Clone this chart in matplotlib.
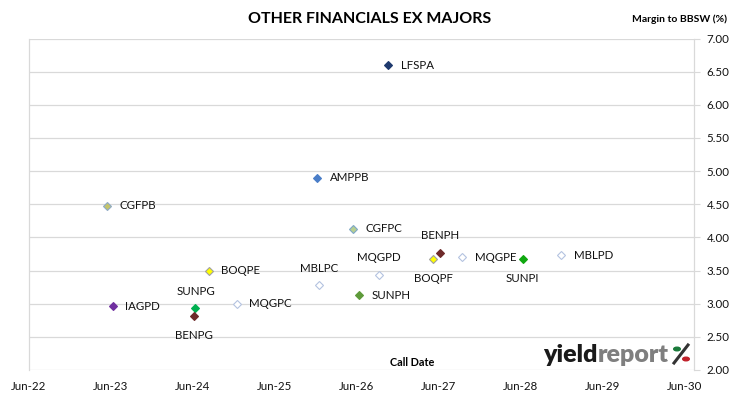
import pandas as pd
import numpy as np
import matplotlib
matplotlib.use('Agg')
import matplotlib.pyplot as plt
import matplotlib.dates as mdates
from matplotlib.patches import Circle
from matplotlib.lines import Line2D

plt.rcParams['font.family'] = ['Lato', 'DejaVu Sans']

#securities, call dates and margins
codes = ['LFSPA', 'AMPPB', 'CGFPB', 'CGFPC', 'BENPH', 'BOQPF', 'MQGPD', 'MBLPC', 'SUNPH',
         'MQGPE', 'SUNPI', 'MBLPD', 'BOQPE', 'SUNPG', 'BENPG', 'MQGPC', 'IAGPD']
call_dates = ['2026-10-19', '2025-12-07', '2023-05-15', '2026-05-16', '2027-06-09', '2027-05-08',
              '2026-09-06', '2025-12-16', '2026-06-11', '2027-09-14', '2028-06-09', '2028-11-29',
              '2024-08-10', '2024-06-12', '2024-06-07', '2024-12-13', '2023-06-09']
margins = [6.60, 4.90, 4.48, 4.13, 3.77, 3.67, 3.44, 3.28, 3.13,
           3.70, 3.67, 3.73, 3.50, 2.93, 2.81, 3.00, 2.96]

fill_cols = ['#1f3a6e', '#4a7ec8', '#c4c46a', '#b8d090', '#6e2a2a', '#ffff00', 'white', 'white', '#5e9a3a',
             'white', '#10a810', 'white', '#ffff00', '#00b050', '#6e2a2a', 'white', '#7030a0']
edge_cols = ['#1f3a6e', '#4a7ec8', '#8eaac8', '#7fa8c8', '#6e2a2a', '#a0a0a0', '#b4c3e0', '#b4c3e0', '#5e9a3a',
             '#b4c3e0', '#10a810', '#b4c3e0', '#a0a0a0', '#00b050', '#6e2a2a', '#b4c3e0', '#7030a0']
# where the label sits: r = right, a = above, b = below
label_pos = ['r', 'r', 'r', 'r', 'a', 'b', 'a', 'a', 'r',
             'r', 'b', 'r', 'r', 'a', 'b', 'r', 'r']

x_ticks = ['2022-06-01', '2023-06-01', '2024-06-01', '2025-06-01', '2026-06-01',
           '2027-06-01', '2028-06-01', '2029-06-01', '2030-06-01']
x_tick_labels = ['Jun-22', 'Jun-23', 'Jun-24', 'Jun-25', 'Jun-26', 'Jun-27', 'Jun-28', 'Jun-29', 'Jun-30']
y_ticks = [2.0, 2.5, 3.0, 3.5, 4.0, 4.5, 5.0, 5.5, 6.0, 6.5, 7.0]

dates = mdates.date2num(pd.to_datetime(call_dates))

fig = plt.figure(figsize=(7.3, 3.99), dpi=100)
ax = fig.add_axes([29/730, 1 - 370/399, (694 - 29)/730, (370 - 38.5)/399])

grid_col = '#d9d9d9'
txt_col = '#111111'
for i in range(len(codes)):
    ax.plot(dates[i], margins[i], marker='D', ms=3.6, mfc=fill_cols[i], mec=edge_cols[i],
            mew=0.8, ls='none', zorder=3)
    p = label_pos[i]
    if p == 'r':
        ax.annotate(codes[i], (dates[i], margins[i]), xytext=(9, 0), textcoords='offset points',
                    ha='left', va='center', fontsize=8.3, color=txt_col)
    elif p == 'a':
        ax.annotate(codes[i], (dates[i], margins[i]), xytext=(0, 12), textcoords='offset points',
                    ha='center', va='center', fontsize=8.3, color=txt_col)
    else:
        ax.annotate(codes[i], (dates[i], margins[i]), xytext=(0, -13.5), textcoords='offset points',
                    ha='center', va='center', fontsize=8.3, color=txt_col)

ax.set_xlim(mdates.date2num(pd.Timestamp('2022-06-01')), mdates.date2num(pd.Timestamp('2030-07-13')))
ax.set_ylim(2, 7)
ax.set_xticks(mdates.date2num(pd.to_datetime(x_ticks)))
ax.set_xticklabels(x_tick_labels)
ax.set_yticks(y_ticks)
ax.set_yticklabels(['%.2f' % v for v in y_ticks])
ax.yaxis.tick_right()
ax.tick_params(axis='y', length=4, color=grid_col, pad=5, labelsize=8.3, labelcolor=txt_col)
ax.tick_params(axis='x', length=0, pad=8, labelsize=8.3, labelcolor=txt_col)
ax.grid(axis='y', color=grid_col, lw=0.9)
ax.set_axisbelow(True)
for s in ['left', 'right']:
    ax.spines[s].set_color(grid_col)
    ax.spines[s].set_linewidth(0.9)
for s in ['top', 'bottom']:
    ax.spines[s].set_visible(False)

fig.text(370/730, 1 - 19/399, 'OTHER FINANCIALS EX MAJORS', ha='center', va='center',
         fontsize=11.5, fontweight='bold', color='black')
fig.text(727/730, 1 - 19/399, 'Margin to BBSW (%)', ha='right', va='center',
         fontsize=7.5, fontweight='bold', color='black')
fig.text(412/730, 1 - 363/399, 'Call Date', ha='center', va='center',
         fontsize=7.8, fontweight='bold', color='black')

#logo, "report" placed right after "yield"
t1 = fig.text(543/730, 1 - 362/399, 'yield', ha='left', va='baseline', fontsize=18,
              fontweight='heavy', color='#1a1a1a')
fig.canvas.draw()
bb = t1.get_window_extent()
fig.text(bb.x1/730 + 0.5/730, 1 - 362/399, 'report', ha='left', va='baseline', fontsize=18,
         fontweight='heavy', color='#7f7f7f')
fig.add_artist(Line2D([674/730, 688/730], [1 - 363/399, 1 - 345/399], transform=fig.transFigure,
                      color='#333333', lw=2.2))
fig.add_artist(Circle((677/730, 1 - 349/399), 3.3/730, transform=fig.transFigure, color='#1a7a3a'))
fig.add_artist(Circle((686/730, 1 - 359/399), 3.3/730, transform=fig.transFigure, color='#c0202a'))

fig.savefig('out.png', dpi=100)
